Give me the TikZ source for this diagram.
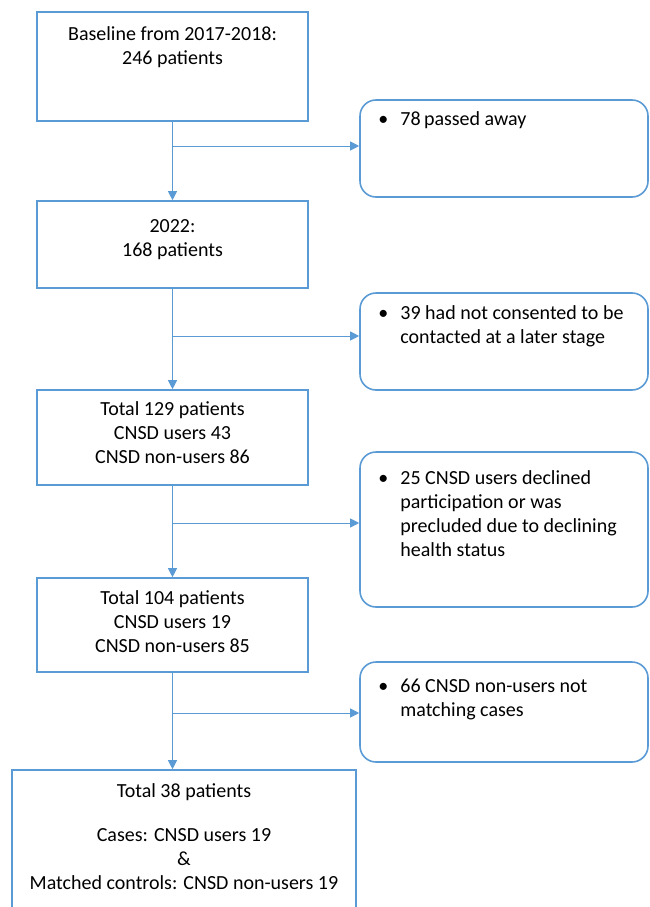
\documentclass[tikz,border=0pt]{standalone}
\usepackage{fontspec}
\setmainfont{Carlito}
\usepackage{xcolor}
\usetikzlibrary{positioning, arrows.meta}
\definecolor{flowblue}{RGB}{91,155,213}

\begin{document}
\begin{tikzpicture}[
    x=1pt, y=1pt,
    box/.style={draw=flowblue, line width=1.6pt, minimum width=271pt, inner sep=0pt},
    sidebox/.style={draw=flowblue, line width=1.6pt, rounded corners=16pt, minimum width=288pt, inner sep=0pt},
    txt/.style={align=center, inner sep=0pt, font=\fontsize{20}{24}\selectfont},
    bul/.style={anchor=north west, inner sep=0pt, font=\fontsize{20}{24}\selectfont},
    arr/.style={draw=flowblue, line width=1pt, -{Triangle[length=9pt, width=9pt]}}
]
\clip (0,0) rectangle (649,-907);

% main column
\node[box, minimum height=109pt] (base) at (172.5,-66.5) {};
\node[box, minimum height=87pt] (y22) at (172.5,-244.5) {};
\node[box, minimum height=95pt] (tot129) at (172.5,-437.5) {};
\node[box, minimum height=94pt] (tot104) at (172.5,-625) {};
\node[box, minimum width=344pt, minimum height=160pt] (tot38) at (184,-850) {};

\node[txt, below=15pt of base.north] (baset) {Baseline from 2017-2018:\\246 patients};
\node[txt, below=19pt of y22.north] (y22t) {2022:\\168 patients};
\node[txt, below=12pt of tot129.north] (tot129t) {Total 129 patients\\CNSD users 43\\CNSD non-users 86};
\node[txt, below=13pt of tot104.north] (tot104t) {Total 104 patients\\CNSD users 19\\CNSD non-users 85};
\node[txt, below=14pt of tot38.north] (tot38t) {Total 38 patients\\[20pt]Cases: CNSD users 19\\\&\\Matched controls: CNSD non-users 19};

% exclusions
\node[sidebox, minimum height=97pt] (dead) at (504,-148.5) {};
\node[sidebox, minimum height=97pt] (nocons) at (504,-341.5) {};
\node[sidebox, minimum height=155pt] (decl) at (504,-529.5) {};
\node[sidebox, minimum height=100pt] (nomatch) at (504,-712) {};

\node[bul] (deadt) at ([shift={(19,-9)}]dead.north west)
  {\begin{tabular}{@{}p{22pt}@{}l@{}}\textbullet & 78\,passed away\end{tabular}};
\node[bul] (noconst) at ([shift={(19,-10)}]nocons.north west)
  {\begin{tabular}{@{}p{22pt}@{}l@{}}\textbullet & 39 had not consented to be\\ & contacted at a later stage\end{tabular}};
\node[bul] (declt) at ([shift={(19,-16)}]decl.north west)
  {\begin{tabular}{@{}p{22pt}@{}l@{}}\textbullet & 25 CNSD users declined\\ & participation or was\\ & precluded due to declining\\ & health status\end{tabular}};
\node[bul] (nomatcht) at ([shift={(19,-14)}]nomatch.north west)
  {\begin{tabular}{@{}p{22pt}@{}l@{}}\textbullet & 66 CNSD non-users not\\ & matching cases\end{tabular}};

\coordinate (j1) at (172.5,-146);
\coordinate (j2) at (172.5,-336);
\coordinate (j3) at (172.5,-523);
\coordinate (j4) at (172.5,-713);

\draw[arr] (base) -- (y22);
\draw[arr] (y22) -- (tot129);
\draw[arr] (tot129) -- (tot104);
\draw[arr] (tot104.south) -- (tot104.south |- tot38.north);
\draw[arr] (j1) -- (j1 -| dead.west);
\draw[arr] (j2) -- (j2 -| nocons.west);
\draw[arr] (j3) -- (j3 -| decl.west);
\draw[arr] (j4) -- (j4 -| nomatch.west);
\end{tikzpicture}
\end{document}
